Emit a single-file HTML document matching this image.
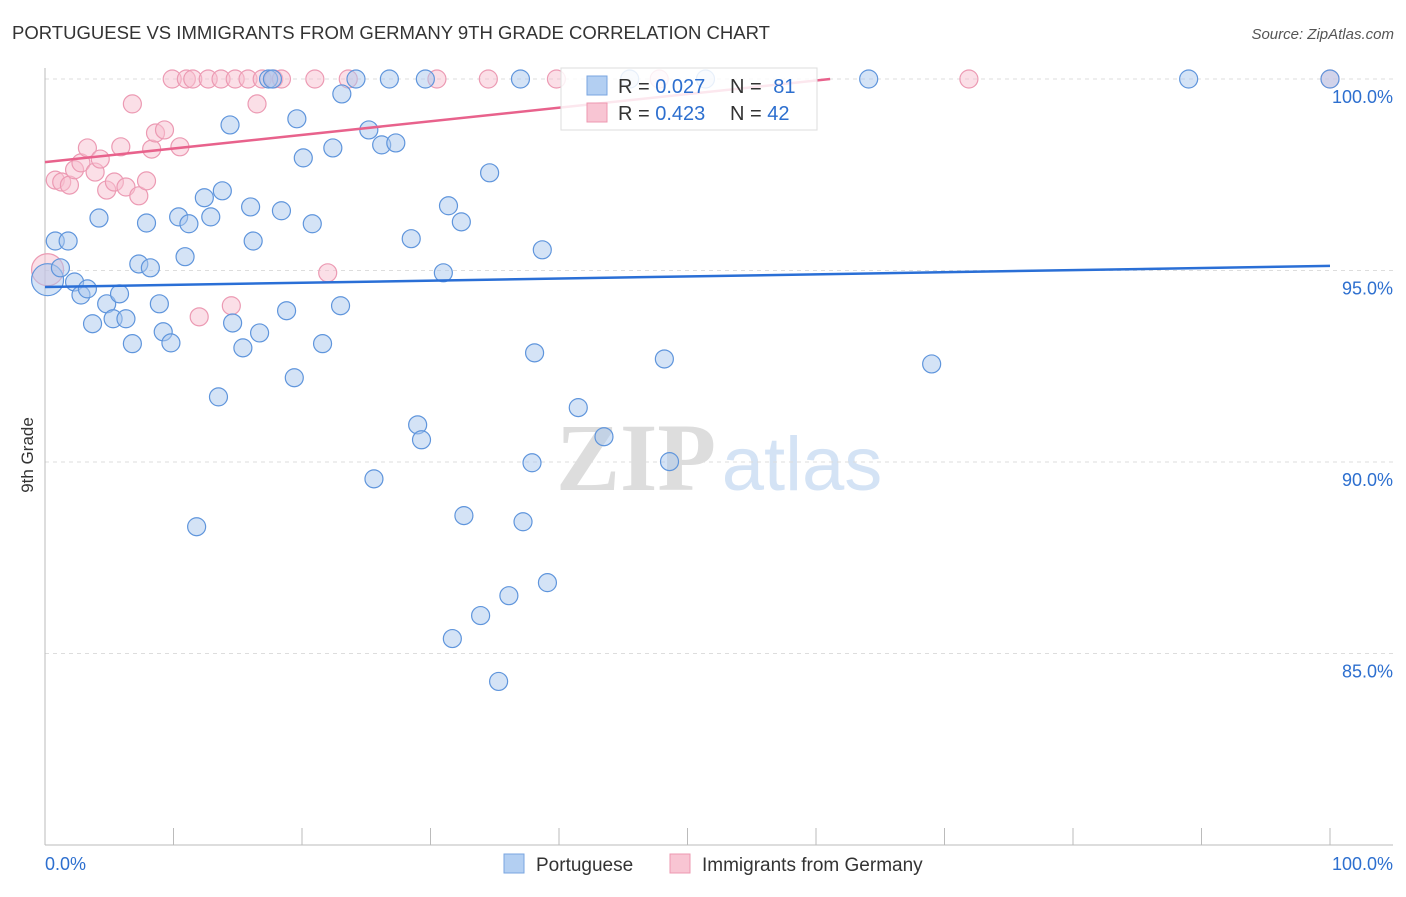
<!DOCTYPE html>
<html><head><meta charset="utf-8"><style>
body{margin:0;background:#fff;font-family:"Liberation Sans",sans-serif}
svg text{font-family:"Liberation Sans",sans-serif}
</style></head><body>
<svg id="chart" width="1406" height="892" xmlns="http://www.w3.org/2000/svg">
<text x="12" y="39" font-size="18" fill="#333" textLength="758" lengthAdjust="spacingAndGlyphs">PORTUGUESE VS IMMIGRANTS FROM GERMANY 9TH GRADE CORRELATION CHART</text>
<text x="1394" y="39" font-size="15" fill="#555" font-style="italic" text-anchor="end">Source: ZipAtlas.com</text>
<text x="33" y="455" font-size="17" fill="#333" text-anchor="middle" transform="rotate(-90 33 455)">9th Grade</text>
<g><text x="636" y="490" font-size="96" fill="#ddd" text-anchor="middle" font-weight="bold" style="font-family:'Liberation Serif',serif">ZIP</text><text x="802" y="490" font-size="76" fill="#d4e3f5" text-anchor="middle">atlas</text></g>
<g id="grid"></g><g id="axes"></g><g id="pts"></g><g id="lines"></g>
<g>
<rect x="561" y="68" width="256" height="62" fill="#fff" fill-opacity="0.85" stroke="#ddd"/>
<rect x="587" y="76" width="20" height="19" fill="#b3cff2" stroke="#7aa6e0"/>
<rect x="587" y="103" width="20" height="19" fill="#f8c5d3" stroke="#ee98b0"/>
<text x="618" y="93" font-size="20" fill="#333">R = <tspan fill="#2d6fcf">0.027</tspan></text>
<text x="730" y="93" font-size="20" fill="#333">N = <tspan fill="#2d6fcf" dx="6">81</tspan></text>
<text x="618" y="120" font-size="20" fill="#333">R = <tspan fill="#2d6fcf">0.423</tspan></text>
<text x="730" y="120" font-size="20" fill="#333">N = <tspan fill="#2d6fcf">42</tspan></text>
</g>
<g>
<rect x="504" y="854" width="20" height="19" fill="#b3cff2" stroke="#7aa6e0"/>
<text x="536" y="871" font-size="19" fill="#333">Portuguese</text>
<rect x="670" y="854" width="20" height="19" fill="#f8c5d3" stroke="#ee98b0"/>
<text x="702" y="871" font-size="19" fill="#333">Immigrants from Germany</text>
</g>
</svg>
<script>
const yTicks=[100,95,90,85];
const yTickLabels=["100.0%","95.0%","90.0%","85.0%"];
const xEndLabels=["0.0%","100.0%"];
const blueX=[0.2,0.8,1.8,1.2,2.3,2.8,3.3,3.7,4.2,4.8,5.3,5.8,6.3,6.8,7.3,7.9,8.2,8.9,9.2,9.8,10.4,10.9,11.2,11.8,12.4,12.9,13.5,13.8,14.4,14.6,15.4,16.0,16.2,16.7,17.4,17.7,18.4,18.8,19.4,19.6,20.1,20.8,21.6,22.4,23.0,23.1,24.2,25.2,25.6,26.2,26.8,27.3,28.5,29.0,29.3,29.6,31.0,31.4,31.7,32.4,32.6,33.9,34.6,35.3,36.1,37.0,37.2,37.9,38.1,38.7,39.1,41.5,43.5,45.5,48.2,48.6,51.4,64.1,69.0,89.0,100];
const blueY=[94.76,95.77,95.77,95.07,94.70,94.36,94.52,93.61,96.37,94.13,93.74,94.39,93.74,93.09,95.17,96.24,95.07,94.13,93.40,93.11,96.40,95.36,96.22,88.31,96.90,96.40,91.70,97.08,98.80,93.63,92.98,96.66,95.77,93.37,100,100,96.56,93.95,92.20,98.96,97.94,96.22,93.09,98.20,94.08,99.61,100,98.67,89.56,98.28,100,98.33,95.83,90.97,90.58,100,94.94,96.69,85.39,96.27,88.60,85.99,97.55,84.27,86.51,100,88.44,89.98,92.85,95.54,86.85,91.42,90.66,100,92.69,90.01,100,100,92.56,100,100];
const pinkX=[0.2,0.8,1.3,1.9,2.3,2.8,3.3,3.9,4.3,4.8,5.4,5.9,6.3,6.8,7.3,7.9,8.3,8.6,9.3,9.9,10.5,11.0,11.5,12.0,12.7,13.7,14.5,14.8,15.8,16.5,16.9,17.8,18.4,21.0,22.0,23.6,30.5,34.5,39.8,47.8,71.9,100];
const pinkY=[95.02,97.36,97.31,97.23,97.63,97.81,98.20,97.57,97.91,97.10,97.31,98.23,97.18,99.35,96.95,97.34,98.17,98.59,98.67,100,98.23,100,100,93.79,100,100,94.08,100,100,99.35,100,100,100,100,94.94,100,100,100,100,100,100,100];
const blueTrend=[94.57,95.12];
const pinkTrend=[97.83,100,61.1];
const X0=45,X1=1330,YT=79,YB=845,YMIN=80,YMAX=100;
const sx=v=>X0+(v/100)*(X1-X0);
const sy=v=>YT+(YMAX-v)/(YMAX-YMIN)*(YB-YT);
const NS="http://www.w3.org/2000/svg";
function mk(tag,attrs,parent){const e=document.createElementNS(NS,tag);for(const k in attrs)e.setAttribute(k,attrs[k]);parent.appendChild(e);return e;}
const grid=document.getElementById('grid'),axes=document.getElementById('axes'),pts=document.getElementById('pts'),lines=document.getElementById('lines');
yTicks.forEach((t,i)=>{
 const l=mk('line',{x1:X0,x2:1393,y1:sy(t),y2:sy(t),stroke:'#ddd','stroke-dasharray':'4,4'},grid);
 
 
 const tx=mk('text',{x:1393,y:sy(t)+24,'font-size':18,fill:'#2d6fcf','text-anchor':'end'},axes);
 tx.textContent=yTickLabels[i];
 
 
});
const ya=mk('line',{x1:X0,x2:X0,y1:68,y2:YB,stroke:'#bbb'},axes);


const xa=mk('line',{x1:X0,x2:1393,y1:YB,y2:YB,stroke:'#bbb'},axes);


for(let i=0;i<=10;i++){
 const t=mk('line',{x1:sx(i*10),x2:sx(i*10),y1:828,y2:YB,stroke:'#bbb'},axes);
 
 
}
const xl0=mk('text',{x:45,y:870,'font-size':18,fill:'#2d6fcf'},axes);xl0.textContent=xEndLabels[0];


const xl1=mk('text',{x:1393,y:870,'font-size':18,fill:'#2d6fcf','text-anchor':'end'},axes);xl1.textContent=xEndLabels[1];


pinkX.forEach((x,i)=>{
 const c=mk('circle',{cx:sx(x),cy:sy(pinkY[i]),r:i===0?16:9,fill:'#f8bfd0','fill-opacity':0.5,stroke:'#ec9ab3','stroke-width':1.2},pts);
 
 
});
blueX.forEach((x,i)=>{
 const c=mk('circle',{cx:sx(x),cy:sy(blueY[i]),r:i===0?16:9,fill:'#aac8ee','fill-opacity':0.5,stroke:'#5f95dc','stroke-width':1.2},pts);
 
 
});
const bl=mk('line',{x1:sx(0),y1:sy(blueTrend[0]),x2:sx(100),y2:sy(blueTrend[1]),stroke:'#2a6fd6','stroke-width':2.5},lines);


const pl=mk('line',{x1:sx(0),y1:sy(pinkTrend[0]),x2:sx(pinkTrend[2]),y2:sy(pinkTrend[1]),stroke:'#e8628c','stroke-width':2.5},lines);


</script>
</body></html>
